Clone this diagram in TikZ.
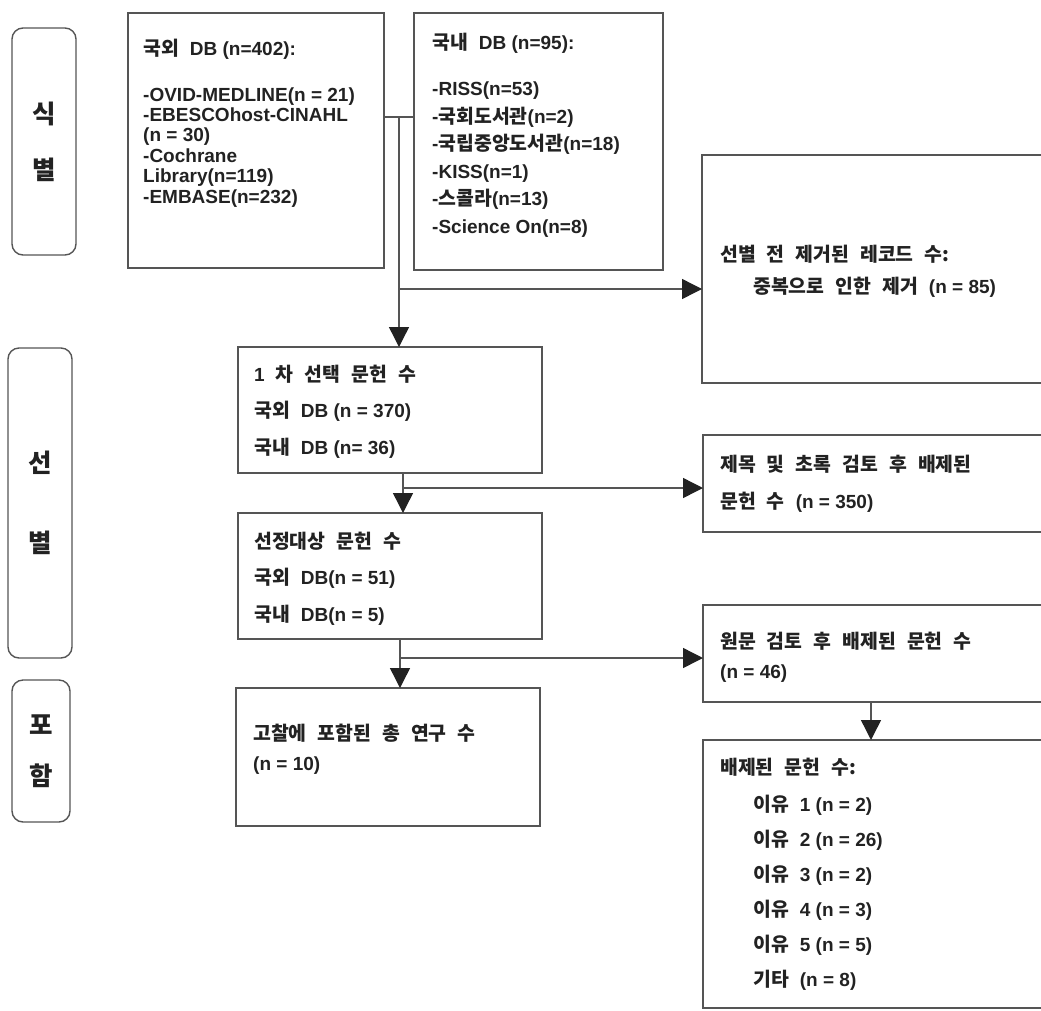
\documentclass[tikz,border=0pt]{standalone}
\usepackage{fontspec}
\setmainfont{Liberation Sans}
\newfontfamily\krfont[Scale=1.02]{Noto Sans CJK KR}
\newcommand\K[1]{{\krfont\spaceskip=0.57em\relax #1}}
\usetikzlibrary{arrows.meta, positioning}
\definecolor{linegray}{HTML}{555555}
\definecolor{inkgray}{HTML}{222222}

\begin{document}
\begin{tikzpicture}[
    x=1pt, y=-1pt,
    box/.style={draw=linegray, line width=1.4pt, anchor=north west, inner sep=0pt, outer sep=0pt},
    stage/.style={box, rounded corners=11pt, align=center, text=inkgray, font=\krfont\bfseries\fontsize{25pt}{#1}\selectfont},
    txt/.style={anchor=base west, align=left, inner sep=0pt, text=inkgray, font=\bfseries\fontsize{19pt}{#1}\selectfont},
    txt/.default=22pt,
    link/.style={draw=linegray, line width=1.4pt},
    arrow/.style={link, -{Triangle[length=20pt, width=20pt, color=inkgray]}},
  ]
  \useasboundingbox (0,0) rectangle (1041,1010);
  % Stage labels
  \node[stage=56pt, minimum width=64pt, minimum height=227pt] (identify) at (12,28) {식\\별};
  \node[stage=80pt, minimum width=64pt, minimum height=310pt] (screen) at (8,348) {선\\별};
  \node[stage=51pt, minimum width=58pt, minimum height=142pt] (include) at (12,680) {포\\함};
  % Foreign databases (text nodes sit on the baseline of their last line)
  \node[box, minimum width=256pt, minimum height=255pt] (foreign) at (128,13) {};
  \node[txt] (foreign-head) at (143,55) {\K{국외 }DB (n=402):};
  \node[txt=20.4pt] (foreign-list) at (143,203) {-OVID-MEDLINE(n = 21)\\-EBESCOhost-CINAHL\\(n = 30)\\-Cochrane\\Library(n=119)\\-EMBASE(n=232)};
  % Domestic databases
  \node[box, minimum width=249pt, minimum height=257pt] (domestic) at (414,13) {};
  \node[txt] (domestic-head) at (432,49) {\K{국내 }DB (n=95):};
  \node[txt=27.5pt] (domestic-list) at (432,233) {-RISS(n=53)\\-\K{국회도서관}(n=2)\\-\K{국립중앙도서관}(n=18)\\-KISS(n=1)\\-\K{스콜라}(n=13)\\-Science On(n=8)};
  % Duplicates removed
  \node[box, minimum width=348pt, minimum height=228pt] (dedup) at (702,155) {};
  \node[txt=32pt] (dedup-text) at (720,293) {\K{선별 전 제거된 레코드 수:}\\\hspace*{33pt}\K{중복으로 인한 제거 }(n = 85)};
  % First selection
  \node[box, minimum width=304pt, minimum height=126pt] (first) at (238,347) {};
  \node[txt=36.5pt] (first-text) at (254,454) {1\K{ 차 선택 문헌 수}\\\K{국외 }DB (n = 370)\\\K{국내 }DB (n= 36)};
  % Title and abstract exclusion
  \node[box, minimum width=347pt, minimum height=97pt] (titleabs) at (703,435) {};
  \node[txt=37pt] (titleabs-text) at (720,508) {\K{제목 및 초록 검토 후 배제된}\\\K{문헌 수 }(n = 350)};
  % Eligible
  \node[box, minimum width=304pt, minimum height=126pt] (eligible) at (238,513) {};
  \node[txt=36.5pt] (eligible-text) at (254,621) {\K{선정대상 문헌 수}\\\K{국외 }DB(n = 51)\\\K{국내 }DB(n = 5)};
  % Full-text exclusion
  \node[box, minimum width=347pt, minimum height=97pt] (fulltext) at (703,605) {};
  \node[txt=30pt] (fulltext-text) at (720,678) {\K{원문 검토 후 배제된 문헌 수}\\(n = 46)};
  % Included studies
  \node[box, minimum width=304pt, minimum height=138pt] (included) at (236,688) {};
  \node[txt=30pt] (included-text) at (253,770) {\K{고찰에 포함된 총 연구 수}\\(n = 10)};
  % Reasons
  \node[box, minimum width=347pt, minimum height=268pt] (reasons) at (703,740) {};
  \node[txt] (reasons-head) at (720,774) {\K{배제된 문헌 수:}};
  \node[txt=35pt] (reasons-list) at (753,986) {\K{이유 }1 (n = 2)\\\K{이유 }2 (n = 26)\\\K{이유 }3 (n = 2)\\\K{이유 }4 (n = 3)\\\K{이유 }5 (n = 5)\\\K{기타 }(n = 8)};
  % Connectors
  \coordinate (split) at (399,117);
  \coordinate (dedup-fork) at (399,289);
  \draw[link] (foreign.east |- split) -- (domestic.west |- split);
  \draw[arrow] (split) -- (split |- first.north);
  \draw[arrow] (dedup-fork) -- (dedup-fork -| dedup.west);
  \coordinate (title-fork) at (403,488);
  \draw[arrow] (title-fork |- first.south) -- (title-fork |- eligible.north);
  \draw[arrow] (title-fork) -- (title-fork -| titleabs.west);
  \coordinate (full-fork) at (400,658);
  \draw[arrow] (full-fork |- eligible.south) -- (full-fork |- included.north);
  \draw[arrow] (full-fork) -- (full-fork -| fulltext.west);
  \coordinate (reason-drop) at (871,720);
  \draw[arrow] (reason-drop |- fulltext.south) -- (reason-drop |- reasons.north);
\end{tikzpicture}
\end{document}
